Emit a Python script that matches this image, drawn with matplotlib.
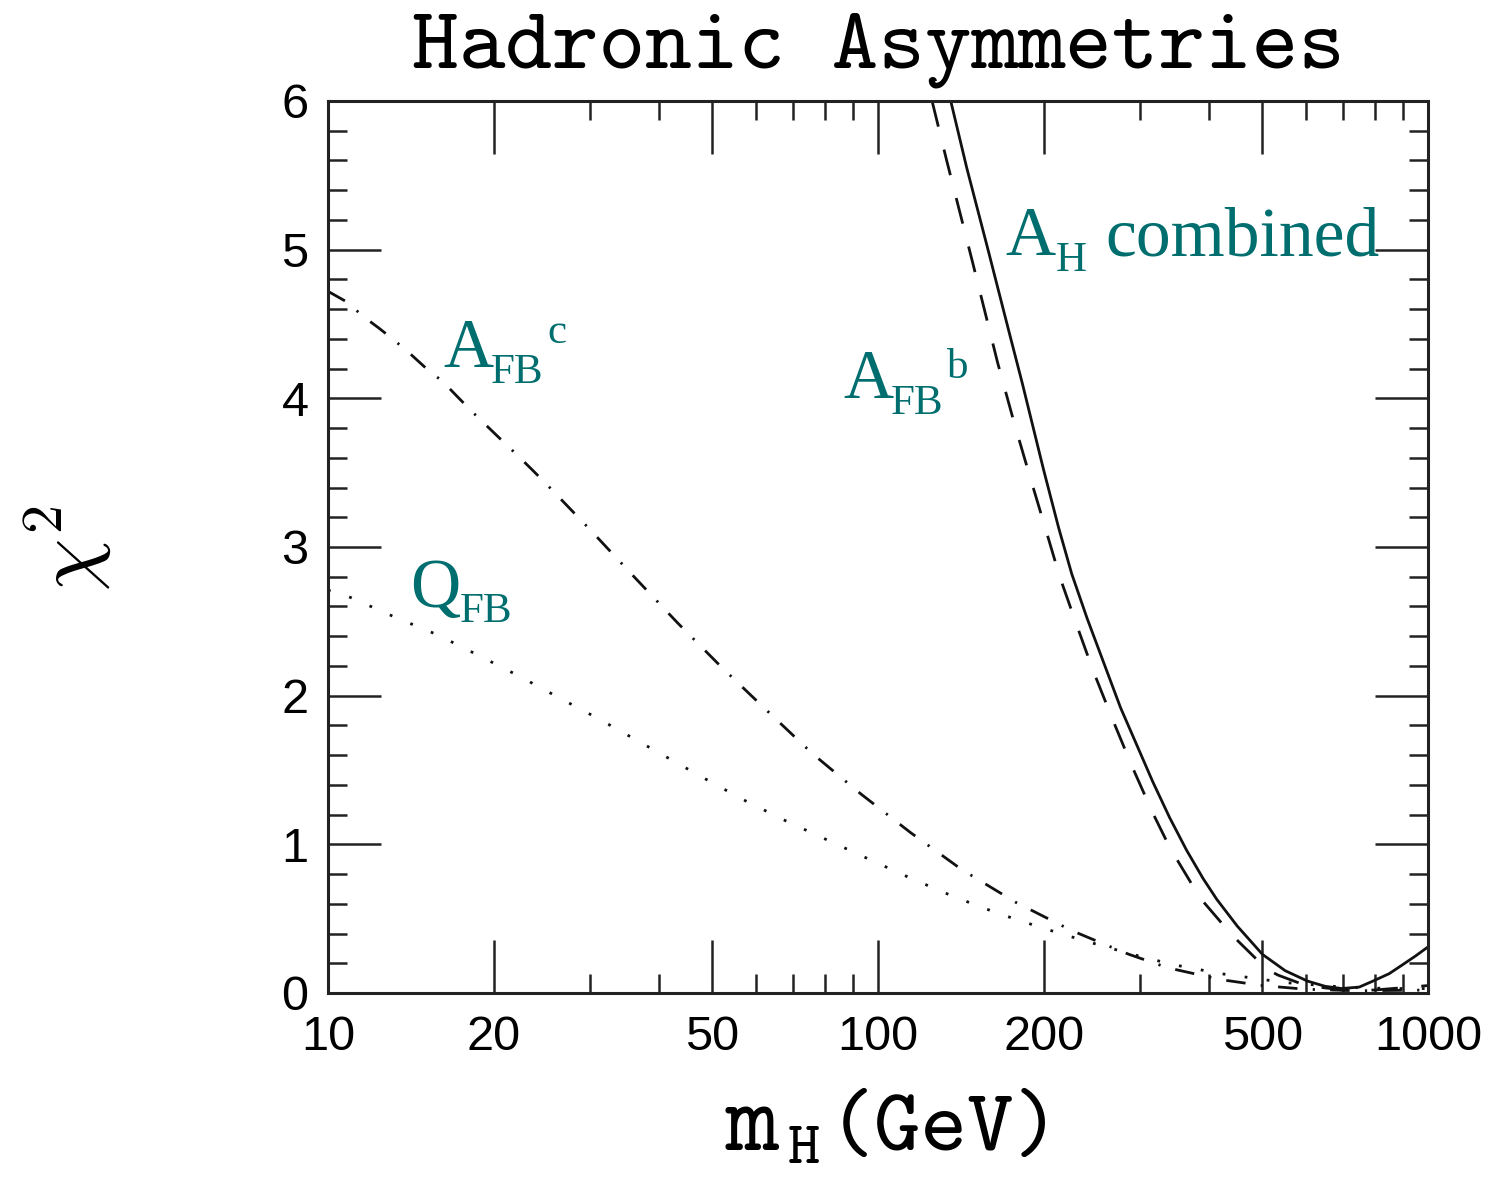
import matplotlib
matplotlib.use('Agg')
import matplotlib.pyplot as plt
from matplotlib.ticker import FixedLocator, FixedFormatter, NullFormatter, MultipleLocator

# ---------------- data ----------------
title_text = "Hadronic Asymmetries"
x_major = [10, 20, 50, 100, 200, 500, 1000]
x_major_labels = ['10', '20', '50', '100', '200', '500', '1000']
x_minor = [30, 40, 60, 70, 80, 90, 300, 400, 600, 700, 800, 900]
y_major = [0, 1, 2, 3, 4, 5, 6]

# A_FB^c (dash-dot)
afbc_m = [10, 10.8, 11.6, 12.4, 13.3, 14.2, 15.1, 16.2, 17.2, 18.4, 19.5, 20.8, 22.2, 23.5,
          25.0, 29.9, 35.8, 43.2, 52.0, 62.8, 76.0, 93.0,
          114.5, 142, 178, 225, 265, 286, 336, 420, 500, 600, 750, 1000]
afbc_chi2 = [4.72, 4.65, 4.55, 4.47, 4.38, 4.29, 4.20, 4.11, 4.01, 3.90, 3.81, 3.71, 3.61, 3.52,
             3.42, 3.12, 2.81, 2.49, 2.19, 1.90, 1.61, 1.34,
             1.08, 0.83, 0.61, 0.42, 0.31, 0.26, 0.17, 0.09, 0.05, 0.025, 0.015, 0.02]

# Q_FB (dotted)
qfb_m = [10, 11.0, 13.2, 15.8, 18.8, 22.3, 26.5, 31.2, 48.0, 56.9, 67.8, 80.8,
         96.3, 115, 137, 164, 198, 238, 290, 345, 420, 460, 550, 700, 850, 1000]
qfb_chi2 = [2.71, 2.66, 2.53, 2.41, 2.27, 2.13, 1.98, 1.84, 1.45, 1.30, 1.16, 1.03,
            0.90, 0.77, 0.65, 0.54, 0.44, 0.35, 0.26, 0.19, 0.13, 0.11, 0.07, 0.04, 0.03, 0.03]

# A_FB^b (dashed)
afbb_m = [125.4, 133.3, 148.7, 165, 177, 189, 201, 214, 229, 246, 267, 290, 316,
          336, 348, 385, 440, 509, 534, 600, 700, 800, 1000]
afbb_chi2 = [6.00, 5.60, 4.91, 4.24, 3.83, 3.47, 3.14, 2.80, 2.49, 2.17, 1.84, 1.52, 1.21,
             1.01, 0.91, 0.64, 0.39, 0.16, 0.12, 0.05, 0.02, 0.02, 0.05]

# A_H combined (solid)
ah_m = [135.6, 145, 158.5, 173, 183, 200, 213, 225, 240, 276, 316, 339, 364, 390, 413, 450, 500,
        550, 604, 650, 697, 750, 794, 850, 899, 950, 1000]
ah_chi2 = [6.00, 5.55, 5.00, 4.45, 4.10, 3.52, 3.13, 2.82, 2.52, 1.92, 1.42, 1.18, 0.96, 0.77, 0.63, 0.45, 0.26,
           0.15, 0.08, 0.045, 0.03, 0.04, 0.08, 0.13, 0.19, 0.25, 0.31]

# ---------------- figure ----------------
W, H = 1493, 1178
fig = plt.figure(figsize=(W / 100, H / 100), dpi=100)
ax = fig.add_axes([328 / W, 1 - 993 / H, 1100 / W, 892 / H])


def px(x, y):
    return x / W, 1 - y / H


lc = '#111111'
lw = 2.0
ax.plot(afbc_m, afbc_chi2, color=lc, lw=lw, linestyle=(0, (7.0, 5.5, 0.8, 5.5)))
ax.plot(qfb_m, qfb_chi2, color=lc, lw=lw, linestyle=(0, (1.0, 7.0)))
ax.plot(afbb_m, afbb_chi2, color=lc, lw=lw, linestyle=(0, (9.5, 8.5)))
ax.plot(ah_m, ah_chi2, color=lc, lw=lw, linestyle='-')

ax.set_xscale('log')
ax.set_xlim(10, 1000)
ax.set_ylim(0, 6)

ax.xaxis.set_major_locator(FixedLocator(x_major))
ax.xaxis.set_major_formatter(FixedFormatter(x_major_labels))
ax.xaxis.set_minor_locator(FixedLocator(x_minor))
ax.xaxis.set_minor_formatter(NullFormatter())
ax.yaxis.set_major_locator(FixedLocator(y_major))
ax.yaxis.set_minor_locator(MultipleLocator(0.2))

for s in ax.spines.values():
    s.set_linewidth(2.2)
    s.set_color('#222222')

ax.tick_params(which='both', direction='in', top=True, right=True, color='#222222')
ax.tick_params(which='major', length=38, width=1.8)
ax.tick_params(which='minor', length=14, width=1.8)
ax.tick_params(axis='x', which='major', pad=16, labelsize=35)
ax.tick_params(axis='y', which='major', pad=14, labelsize=35)
for lab in ax.get_xticklabels() + ax.get_yticklabels():
    lab.set_family('Liberation Sans')

tt = 'cmtt10'
# title
fig.text(*px(878, 68), title_text, ha='center', va='baseline', family=tt, fontsize=64)

# x label: m_H(GeV)
fig.text(*px(726, 1150), 'm', ha='left', va='baseline', family=tt, fontsize=72)
fig.text(*px(788, 1163), 'H', ha='left', va='baseline', family=tt, fontsize=44)
fig.text(*px(828, 1150), '(GeV)', ha='left', va='baseline', family=tt, fontsize=64)

# y label
fig.text(*px(68, 548), r'$\chi^2$', ha='center', va='center', rotation=90,
         fontsize=60, math_fontfamily='cm')

# curve labels
teal = '#006e6e'
ser = 'Liberation Serif'
big, small = 50, 31


def lab(x, y, s, size):
    fig.text(*px(x, y), s, ha='left', va='baseline', color=teal, fontsize=size, family=ser)


lab(443, 367, 'A', big)
lab(491, 383, 'FB', small)
lab(547, 343, 'c', small)

lab(843, 398, 'A', big)
lab(891, 414, 'FB', small)
lab(947, 378, 'b', small)

lab(410, 607, 'Q', big)
lab(460, 622, 'FB', small)

lab(1005, 255, 'A', big)
lab(1056, 271, 'H', small)
lab(1105, 255, 'combined', big)

fig.savefig('out.png', dpi=100)
